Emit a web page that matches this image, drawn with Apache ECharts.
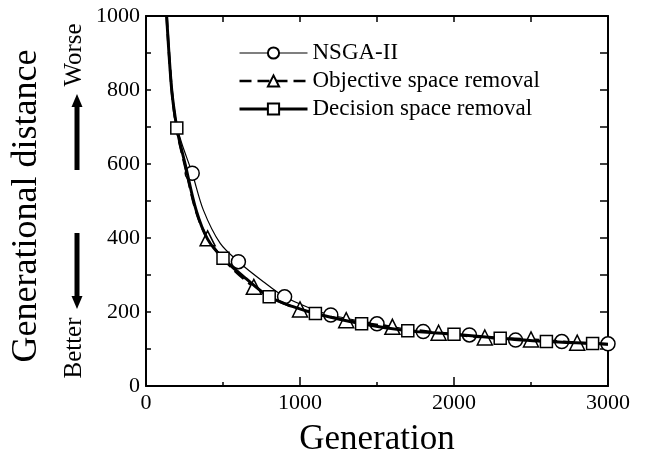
<!DOCTYPE html>
<html>
<head>
<meta charset="utf-8">
<script src="https://cdn.jsdelivr.net/npm/echarts@6/dist/echarts.min.js"></script>
<style>html,body{margin:0;padding:0;background:#fff}#c{width:645px;height:459px}</style>
</head>
<body>
<div id="c"></div>
<script>
// ---- data ----
const seriesNames = ['NSGA-II', 'Objective space removal', 'Decision space removal'];
const xTicks = [0, 1000, 2000, 3000];
const yTicks = [0, 200, 400, 600, 800, 1000];

const nsgaGen = [134, 170, 200, 232, 300, 372, 481, 600, 762, 900, 1050, 1200, 1500, 1800, 2100, 2400, 2700, 3000];
const nsgaVal = [1000, 800, 705, 656, 575, 476, 386, 336, 282, 241, 213, 192, 168, 147, 138, 124, 120, 114];
const nsgaMarks = [300, 600, 900, 1200, 1500, 1800, 2100, 2400, 2700, 3000];

const objGen = [134, 167, 200, 250, 325, 400, 550, 700, 850, 1000, 1300, 1600, 1900, 2200, 2500, 2800, 3000];
const objVal = [1000, 800, 692, 600, 472, 399, 322, 268, 232, 207, 178, 160, 144, 131, 126, 117, 113];
const objMarks = [400, 700, 1000, 1300, 1600, 1900, 2200, 2500, 2800];

const decGen = [134, 167, 200, 221, 253, 325, 400, 500, 650, 800, 950, 1100, 1400, 1700, 2000, 2300, 2600, 2900, 3000];
const decVal = [1000, 800, 697, 656, 602, 476, 397, 345, 290, 241, 215, 196, 168, 149, 140, 129, 120, 115, 113];
const decMarks = [200, 500, 800, 1100, 1400, 1700, 2000, 2300, 2600, 2900];

function build(gens, vals, marks) {
  return gens.map((g, i) => marks.indexOf(g) >= 0 ? [g, vals[i]] : { value: [g, vals[i]], symbol: 'none' });
}

const FONT = 'Liberation Serif';
const chart = echarts.init(document.getElementById('c'), null, { renderer: 'canvas' });
const axisLineStyle = { color: '#000', width: 2 };

chart.setOption({
  animation: false,
  backgroundColor: '#fff',
  grid: { left: 146, right: 37, top: 16, bottom: 73, containLabel: false, outerBoundsMode: 'none' },
  legend: {
    orient: 'vertical', left: 238, top: 39, padding: 0,
    itemWidth: 68, itemHeight: 14, itemGap: 0,
    data: [
      { name: seriesNames[0], lineStyle: { width: 1.2, color: '#000' } },
      { name: seriesNames[1], lineStyle: { width: 2.5, color: '#000', type: [12, 6] } },
      { name: seriesNames[2], lineStyle: { width: 3, color: '#000' } }
    ],
    textStyle: { fontFamily: FONT, fontSize: 23, color: '#000', lineHeight: 28 },
    inactiveColor: '#000'
  },
  xAxis: [
    {
      type: 'value', position: 'bottom', min: 0, max: 3000, interval: 1000,
      axisLine: { show: true, onZero: false, lineStyle: axisLineStyle },
      axisTick: { show: true, inside: true, length: 9, lineStyle: { color: '#000', width: 1.5 } },
      minorTick: { show: true, splitNumber: 2, length: 4, lineStyle: { color: '#000', width: 1.5 } },
      splitLine: { show: false },
      axisLabel: { fontFamily: FONT, fontSize: 22, color: '#000', margin: 6,
        formatter: v => xTicks.indexOf(v) >= 0 ? String(v) : '' },
      name: 'Generation', nameLocation: 'middle', nameGap: 36,
      nameTextStyle: { fontFamily: FONT, fontSize: 35, color: '#000' }
    },
    {
      type: 'value', position: 'top', min: 0, max: 3000, interval: 500,
      axisLine: { show: true, onZero: false, lineStyle: axisLineStyle },
      axisTick: { show: true, inside: true, length: 6, lineStyle: { color: '#000', width: 1.5 } },
      axisLabel: { show: false }, splitLine: { show: false }
    }
  ],
  yAxis: [
    {
      type: 'value', position: 'left', min: 0, max: 1000, interval: 200,
      axisLine: { show: true, onZero: false, lineStyle: axisLineStyle },
      axisTick: { show: true, inside: true, length: 5, lineStyle: { color: '#000', width: 1.5 } },
      minorTick: { show: true, splitNumber: 2, length: 5, lineStyle: { color: '#000', width: 1.5 } },
      splitLine: { show: false },
      axisLabel: { fontFamily: FONT, fontSize: 22, color: '#000', margin: 6,
        formatter: v => yTicks.indexOf(v) >= 0 ? String(v) : '' }
    },
    {
      type: 'value', position: 'right', min: 0, max: 1000, interval: 100,
      axisLine: { show: true, onZero: false, lineStyle: axisLineStyle },
      axisTick: { show: true, inside: true, length: 8, lineStyle: { color: '#000', width: 1.5 } },
      axisLabel: { show: false }, splitLine: { show: false }
    }
  ],
  series: [
    {
      name: seriesNames[0], type: 'line', smooth: 0.3, clip: true,
      data: build(nsgaGen, nsgaVal, nsgaMarks),
      symbol: 'circle', symbolSize: 14, showSymbol: true,
      lineStyle: { color: '#000', width: 1.2 },
      itemStyle: { color: '#fff', borderColor: '#000', borderWidth: 1.5 },
      z: 3
    },
    {
      name: seriesNames[1], type: 'line', smooth: 0.3, clip: true,
      data: build(objGen, objVal, objMarks),
      symbol: 'triangle', symbolSize: 15, showSymbol: true,
      lineStyle: { color: '#000', width: 2.5, type: [12, 6] },
      itemStyle: { color: '#fff', borderColor: '#000', borderWidth: 1.5 },
      z: 4
    },
    {
      name: seriesNames[2], type: 'line', smooth: 0.3, clip: true,
      data: build(decGen, decVal, decMarks),
      symbol: 'rect', symbolSize: 12, showSymbol: true,
      lineStyle: { color: '#000', width: 3 },
      itemStyle: { color: '#fff', borderColor: '#000', borderWidth: 1.5 },
      z: 5
    }
  ],
  graphic: [
    { type: 'text', x: 27, y: 206, rotation: Math.PI / 2,
      style: { text: 'Generational distance', font: '36px "Liberation Serif"', fill: '#000', align: 'center', verticalAlign: 'middle' } },
    { type: 'text', x: 74, y: 55, rotation: Math.PI / 2,
      style: { text: 'Worse', font: '25px "Liberation Serif"', fill: '#000', align: 'center', verticalAlign: 'middle' } },
    { type: 'text', x: 74, y: 348, rotation: Math.PI / 2,
      style: { text: 'Better', font: '25px "Liberation Serif"', fill: '#000', align: 'center', verticalAlign: 'middle' } },
    { type: 'rect', shape: { x: 74.5, y: 105, width: 5, height: 65 }, style: { fill: '#000' } },
    { type: 'polygon', shape: { points: [[77, 94], [71.5, 107], [82.5, 107]] }, style: { fill: '#000' } },
    { type: 'rect', shape: { x: 74.5, y: 233, width: 5, height: 64 }, style: { fill: '#000' } },
    { type: 'polygon', shape: { points: [[77, 309], [71.5, 296], [82.5, 296]] }, style: { fill: '#000' } }
  ]
});
</script>
</body>
</html>
